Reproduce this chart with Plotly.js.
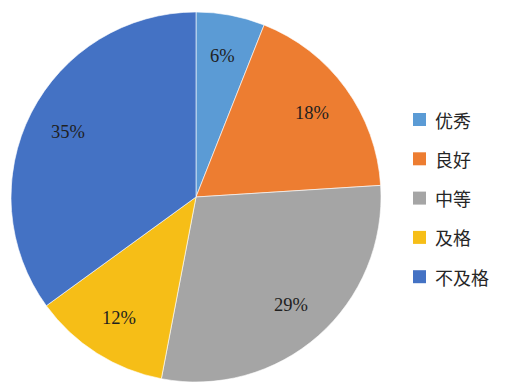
<!DOCTYPE html>
<html>
<head>
<meta charset="utf-8">
<script src="https://cdn.plot.ly/plotly-3.0.1.min.js"></script>
<style>html,body{margin:0;padding:0;background:#fff;}#chart{width:505px;height:386px;}</style>
</head>
<body>
<div id="chart"></div>
<script>
const categories = ['优秀', '良好', '中等', '及格', '不及格'];
const values = [6, 18, 29, 12, 35];
const colors = ['#5B9BD5', '#ED7D31', '#A5A5A5', '#F6BE17', '#4472C4'];

const W = 505, H = 386;
const px = x => x / W;
const py = y => 1 - y / H;

// pie geometry (pixels)
const CX = 196, CY = 197, R = 185, LABEL_R = 0.777;

const shapes = [];
const annotations = [];
categories.forEach((c, i) => {
  const cy = 119.5 + i * 39.3;
  shapes.push({
    type: 'rect', xref: 'paper', yref: 'paper',
    x0: px(413), x1: px(426), y0: py(cy - 6.5), y1: py(cy + 6.5),
    fillcolor: colors[i], line: {width: 0}
  });
  annotations.push({
    xref: 'paper', yref: 'paper', x: px(433), y: py(cy),
    xanchor: 'left', yanchor: 'middle', showarrow: false,
    text: c, font: {family: 'Noto Sans CJK SC', size: 18, color: '#262626'}
  });
});

// percentage labels along each slice bisector
const total = values.reduce((a, b) => a + b, 0);
let cum = 0;
values.forEach((v, i) => {
  const mid = (cum + v / 2) / total * 2 * Math.PI;
  cum += v;
  const lx = CX + LABEL_R * R * Math.sin(mid);
  const ly = CY - LABEL_R * R * Math.cos(mid);
  annotations.push({
    xref: 'paper', yref: 'paper', x: px(lx), y: py(ly),
    xanchor: 'center', yanchor: 'middle', showarrow: false,
    text: Math.round(v / total * 100) + '%',
    font: {family: 'Liberation Serif', size: 18.5, color: '#1f1f1f'}
  });
});

const trace = {
  type: 'pie',
  labels: categories,
  values: values,
  sort: false,
  direction: 'clockwise',
  rotation: 0,
  marker: {colors: colors, line: {color: '#ffffff', width: 0.6}},
  textinfo: 'none',
  domain: {x: [px(CX - R), px(CX + R)], y: [py(CY + R), py(CY - R)]},
  hoverinfo: 'none'
};

Plotly.newPlot('chart', [trace], {
  width: W, height: H,
  margin: {l: 0, r: 0, t: 0, b: 0},
  paper_bgcolor: '#fff',
  showlegend: false,
  shapes: shapes,
  annotations: annotations
}, {displayModeBar: false, staticPlot: true});
</script>
</body>
</html>
